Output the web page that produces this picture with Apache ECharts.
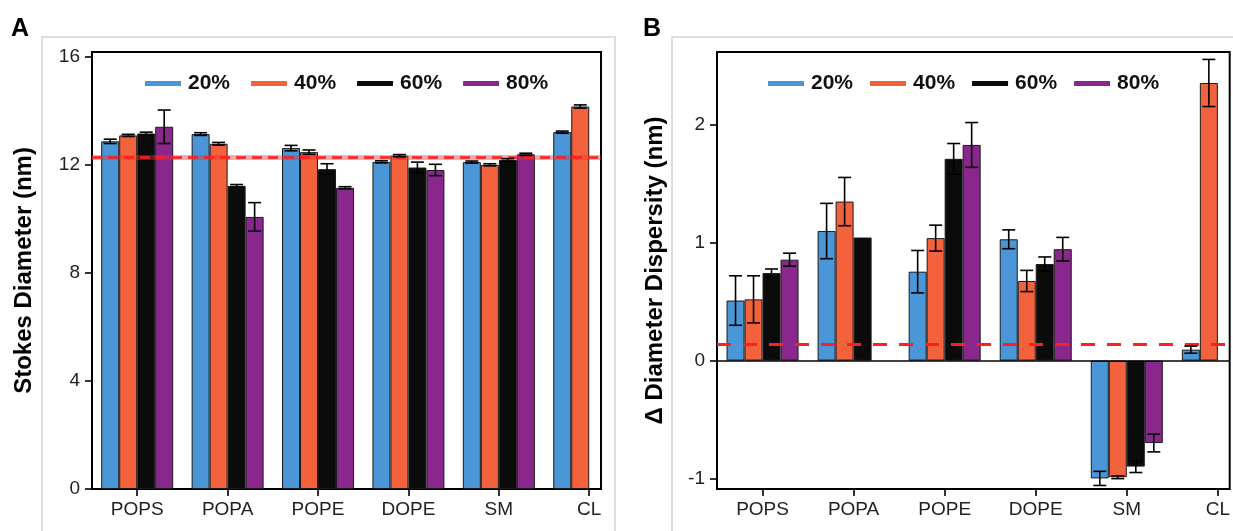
<!DOCTYPE html>
<html>
<head>
<meta charset="utf-8">
<script src="https://cdn.jsdelivr.net/npm/echarts@6/dist/echarts.min.js"></script>
<style>
html,body{margin:0;padding:0;background:#fff;}
#chart{width:1233px;height:531px;}
</style>
</head>
<body>
<div id="chart"></div>
<script>
// ---------- data ----------
const categories = ['POPS', 'POPA', 'POPE', 'DOPE', 'SM', 'CL'];
const seriesNames = ['20%', '40%', '60%', '80%'];
const colors = ['#4a96d6', '#f4613d', '#0b0b0b', '#8a278d'];

// Panel A: Stokes diameter (nm)
const stokes20 = [12.88, 13.15, 12.63, 12.12, 12.11, 13.22];
const stokes40 = [13.10, 12.79, 12.48, 12.35, 12.01, 14.17];
const stokes60 = [13.17, 11.23, 11.85, 11.91, 12.19, null];
const stokes80 = [13.42, 10.08, 11.16, 11.82, 12.40, null];
const stokesErr20 = [0.08, 0.05, 0.10, 0.04, 0.04, 0.04];
const stokesErr40 = [0.04, 0.05, 0.08, 0.04, 0.04, 0.06];
const stokesErr60 = [0.05, 0.05, 0.20, 0.20, 0.05, null];
const stokesErr80 = [0.62, 0.53, 0.04, 0.21, 0.04, null];
const stokesRef = 12.3;
const stokesTicks = [0, 4, 8, 12, 16];

// Panel B: delta diameter dispersity (nm)
const disp20 = [0.51, 1.10, 0.755, 1.03, -1.00, 0.093];
const disp40 = [0.52, 1.35, 1.04, 0.676, -0.99, 2.357];
const disp60 = [0.743, 1.045, 1.713, 0.82, -0.90, null];
const disp80 = [0.857, null, 1.831, 0.946, -0.70, null];
const dispErr20 = [0.21, 0.235, 0.18, 0.08, 0.06, 0.03];
const dispErr40 = [0.20, 0.205, 0.11, 0.09, 0.012, 0.20];
const dispErr60 = [0.035, null, 0.13, 0.06, 0.05, null];
const dispErr80 = [0.055, null, 0.19, 0.10, 0.075, null];
const dispRef = 0.14;
const dispTicks = [-1, 0, 1, 2];

// ---------- helpers ----------
const FONT = 'Arial, "Liberation Sans", Helvetica, sans-serif';
const BAR_W = 18;
const catPos = categories.map((c, i) => i + 1);

function barData(vals) {
  const out = [];
  vals.forEach((v, i) => { if (v !== null) out.push([catPos[i], v]); });
  return out;
}
function errData(valsList, errList) {
  const out = [];
  valsList.forEach((vals, s) => {
    vals.forEach((v, i) => {
      const e = errList[s][i];
      if (v !== null && e !== null) out.push([catPos[i], v, e, s]);
    });
  });
  return out;
}
function renderErr(params, api) {
  const x = api.value(0), v = api.value(1), e = api.value(2), s = api.value(3);
  const off = (s - 1.5) * BAR_W;
  const hi = api.coord([x, v + e]);
  const lo = api.coord([x, v - e]);
  const cx = hi[0] + off;
  const cap = 6.5;
  const style = { stroke: '#000', lineWidth: 1.6 };
  return {
    type: 'group',
    children: [
      { type: 'line', shape: { x1: cx, y1: hi[1], x2: cx, y2: lo[1] }, style },
      { type: 'line', shape: { x1: cx - cap, y1: hi[1], x2: cx + cap, y2: hi[1] }, style },
      { type: 'line', shape: { x1: cx - cap, y1: lo[1], x2: cx + cap, y2: lo[1] }, style }
    ]
  };
}

function xAxisFor(gi) {
  return {
    type: 'value', gridIndex: gi, min: 0.5, max: 6.13,
    axisLine: { onZero: false, lineStyle: { color: '#000', width: 2 } },
    splitLine: { show: false },
    axisTick: { customValues: catPos, length: 7, lineStyle: { color: '#000', width: 1.6 } },
    axisLabel: {
      customValues: catPos, margin: 11, fontSize: 19, color: '#222', fontFamily: FONT,
      formatter: v => categories[Math.round(v) - 1]
    }
  };
}
function yAxisFor(gi, min, max, ticks, name, gap) {
  return {
    type: 'value', gridIndex: gi, min, max,
    name, nameLocation: 'middle', nameGap: gap,
    nameTextStyle: { fontSize: 24, fontWeight: 'bold', color: '#000', fontFamily: FONT },
    axisLine: { onZero: false, lineStyle: { color: '#000', width: 2 } },
    splitLine: { show: false },
    axisTick: { customValues: ticks, length: 7, lineStyle: { color: '#000', width: 1.6 } },
    axisLabel: { customValues: ticks, margin: 12, fontSize: 19, color: '#222', fontFamily: FONT }
  };
}

const stokesVals = [stokes20, stokes40, stokes60, stokes80];
const stokesErrs = [stokesErr20, stokesErr40, stokesErr60, stokesErr80];
const dispVals = [disp20, disp40, disp60, disp80];
const dispErrs = [dispErr20, dispErr40, dispErr60, dispErr80];

const series = [];
function addPanel(gi, valsList, errsList, markData) {
  valsList.forEach((vals, s) => {
    const ser = {
      type: 'bar', name: seriesNames[s], xAxisIndex: gi, yAxisIndex: gi,
      data: barData(vals), barWidth: BAR_W, barGap: '0%',
      itemStyle: { color: colors[s], borderColor: '#1a1a1a', borderWidth: 1 },
      animation: false
    };
    if (s === 0) {
      ser.markLine = {
        silent: true, symbol: 'none', animation: false, label: { show: false },
        data: markData
      };
    }
    series.push(ser);
  });
  series.push({
    type: 'custom', xAxisIndex: gi, yAxisIndex: gi, renderItem: renderErr,
    data: errData(valsList, errsList), encode: { x: 0, y: 1 }, z: 5, animation: false, silent: true
  });
}
addPanel(0, stokesVals, stokesErrs, [
  { yAxis: stokesRef, lineStyle: { color: 'rgba(255,40,40,0.4)', type: 'solid', width: 5 } },
  { yAxis: stokesRef, lineStyle: { color: '#ff1e1e', type: [10, 6], width: 2.5 } }
]);
addPanel(1, dispVals, dispErrs, [
  { yAxis: 0, lineStyle: { color: '#000', type: 'solid', width: 1.6 } },
  { yAxis: dispRef, lineStyle: { color: '#ff1e1e', type: [14, 12], width: 3 } }
]);

function legendFor(left, gap) {
  return {
    data: seriesNames, left, top: 73, padding: 0, icon: 'rect',
    itemWidth: 36, itemHeight: 5, itemGap: gap,
    itemStyle: { borderWidth: 0 },
    textStyle: { fontSize: 21, fontWeight: 'bold', color: '#111', fontFamily: FONT, padding: [0, 0, 0, 2] },
    selectedMode: false
  };
}

const option = {
  backgroundColor: '#fff',
  animation: false,
  grid: [
    { left: 92, top: 52, width: 509, height: 437, show: true, borderColor: '#000', borderWidth: 2, containLabel: false },
    { left: 717, top: 52, width: 513, height: 437, show: true, borderColor: '#000', borderWidth: 2, containLabel: false }
  ],
  legend: [legendFor(145, 21), legendFor(768, 17)],
  xAxis: [xAxisFor(0), xAxisFor(1)],
  yAxis: [
    yAxisFor(0, 0, 16.19, stokesTicks, 'Stokes Diameter (nm)', 56),
    yAxisFor(1, -1.09, 2.62, dispTicks, 'Δ Diameter Dispersity (nm)', 50)
  ],
  series,
  graphic: [
    { type: 'rect', shape: { x: 42, y: 37, width: 573, height: 520 }, style: { fill: 'none', stroke: '#d4d4d4', lineWidth: 1.5 }, z: -1, silent: true },
    { type: 'rect', shape: { x: 672, y: 37, width: 600, height: 520 }, style: { fill: 'none', stroke: '#d4d4d4', lineWidth: 1.5 }, z: -1, silent: true },
    { type: 'text', left: 11, top: 17, style: { text: 'A', fontSize: 25, fontWeight: 'bold', fill: '#000', fontFamily: FONT } },
    { type: 'text', left: 643, top: 17, style: { text: 'B', fontSize: 25, fontWeight: 'bold', fill: '#000', fontFamily: FONT } }
  ]
};
const chart = echarts.init(document.getElementById('chart'), null, { renderer: 'canvas' });
chart.setOption(option);
</script>
</body>
</html>
